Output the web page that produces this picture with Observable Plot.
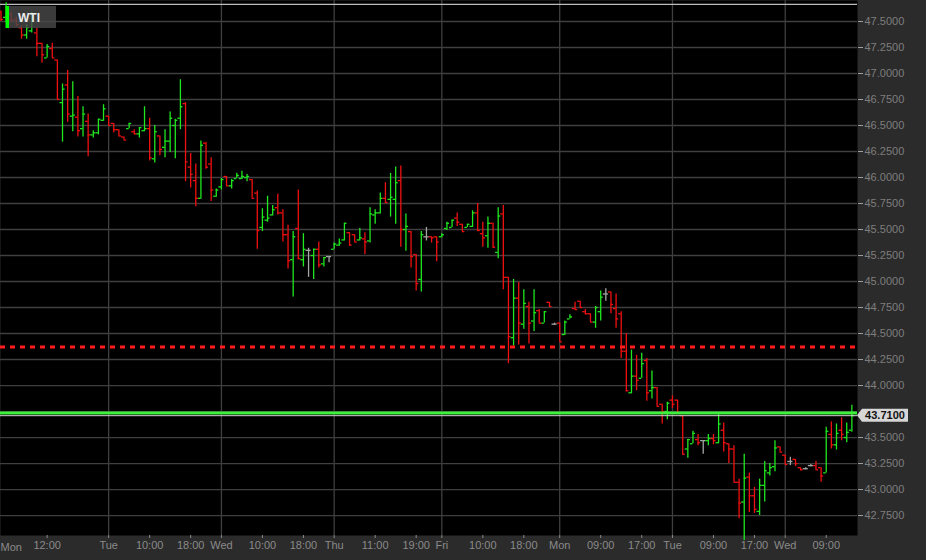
<!DOCTYPE html>
<html>
<head>
<meta charset="utf-8">
<script src="https://cdn.jsdelivr.net/npm/d3@7"></script>
<script src="https://cdn.jsdelivr.net/npm/@observablehq/plot@0.6"></script>
<style>
  html, body { margin: 0; padding: 0; background: #2b2b2b; }
  #chart { width: 926px; height: 560px; overflow: hidden; }
</style>
</head>
<body>
<div id="chart"></div>
<script>
// Hourly WTI bars, oldest first
const opens = [
  47.59, 47.54, 47.57, 47.52, 47.44, 47.37, 47.41, 47.39, 47.29, 47.15,
  47.24, 47.13, 46.72, 46.89, 46.59, 46.58, 46.47, 46.54, 46.41, 46.43,
  46.55, 46.59, 46.52, 46.46, 46.39, 46.47, 46.44, 46.42, 46.45, 46.47,
  46.18, 46.40, 46.29, 46.35, 46.50, 46.57, 46.71, 46.10, 45.97, 45.80,
  46.33, 46.13, 45.82, 45.91, 46.01, 45.92, 45.99, 45.99, 46.00, 45.98,
  45.85, 45.52, 45.59, 45.64, 45.71, 45.66, 45.45, 45.21, 45.51, 45.21,
  45.30, 45.25, 45.31, 45.17, 45.24, 45.31, 45.35, 45.40, 45.47, 45.45,
  45.40, 45.41, 45.39, 45.64, 45.66, 45.80, 45.79, 45.79, 45.97, 45.50,
  45.48, 45.26, 45.02, 45.43, 45.43, 45.43, 45.43, 45.51, 45.52, 45.61,
  45.55, 45.52, 45.53, 45.66, 45.46, 45.44, 45.56, 45.28, 45.65, 45.04,
  44.46, 44.84, 44.59, 44.76, 44.62, 44.72, 44.60, 44.80, 44.59, 44.60,
  44.49, 44.64, 44.74, 44.81, 44.71, 44.69, 44.61, 44.71, 44.88, 44.90,
  44.74, 44.69, 44.33, 43.93, 44.09, 44.07, 44.24, 43.95, 43.98, 43.82,
  43.75, 43.86, 43.86, 43.71, 43.39, 43.44, 43.48, 43.47, 43.47, 43.49,
  43.45, 43.57, 43.44, 43.39, 43.07, 42.88, 43.12, 42.94, 42.79, 43.04,
  43.16, 43.22, 43.41, 43.33, 43.27, 43.29, 43.21, 43.20, 43.23, 43.23,
  43.21, 43.16, 43.53, 43.43, 43.57, 43.50, 43.57
];
const highs = [
  47.60, 47.68, 47.59, 47.54, 47.46, 47.47, 47.59, 47.44, 47.29, 47.28,
  47.29, 47.13, 46.90, 47.03, 46.92, 46.78, 46.68, 46.61, 46.45, 46.56,
  46.70, 46.59, 46.52, 46.46, 46.39, 46.52, 46.46, 46.48, 46.68, 46.57,
  46.50, 46.40, 46.46, 46.63, 46.56, 46.94, 46.72, 46.23, 46.13, 46.35,
  46.34, 46.19, 45.89, 45.99, 46.01, 45.98, 46.04, 46.06, 46.03, 45.98,
  45.87, 45.70, 45.82, 45.73, 45.84, 45.69, 45.54, 45.48, 45.88, 45.46,
  45.32, 45.31, 45.38, 45.23, 45.24, 45.37, 45.41, 45.56, 45.47, 45.45,
  45.51, 45.47, 45.71, 45.69, 45.85, 45.95, 46.04, 46.10, 46.11, 45.65,
  45.48, 45.26, 45.48, 45.52, 45.43, 45.43, 45.46, 45.57, 45.59, 45.66,
  45.55, 45.55, 45.68, 45.75, 45.57, 45.62, 45.56, 45.71, 45.73, 45.04,
  45.02, 44.99, 44.92, 44.80, 44.92, 44.73, 44.71, 44.80, 44.60, 44.60,
  44.62, 44.68, 44.80, 44.81, 44.73, 44.69, 44.76, 44.91, 44.93, 44.90,
  44.88, 44.71, 44.50, 44.34, 44.29, 44.31, 44.26, 44.14, 43.98, 43.82,
  43.84, 43.90, 43.86, 43.71, 43.48, 43.56, 43.53, 43.47, 43.53, 43.53,
  43.73, 43.64, 43.44, 43.42, 43.10, 43.34, 43.16, 43.02, 43.10, 43.27,
  43.25, 43.47, 43.41, 43.33, 43.31, 43.29, 43.21, 43.21, 43.24, 43.27,
  43.21, 43.60, 43.65, 43.63, 43.69, 43.64, 43.81
];
const lows = [
  47.50, 47.49, 47.49, 47.45, 47.33, 47.33, 47.39, 47.16, 47.10, 47.15,
  47.15, 46.75, 46.34, 46.53, 46.44, 46.39, 46.39, 46.20, 46.38, 46.41,
  46.54, 46.50, 46.43, 46.40, 46.36, 46.47, 46.41, 46.38, 46.44, 46.16,
  46.14, 46.21, 46.19, 46.24, 46.18, 46.46, 45.96, 45.90, 45.72, 45.79,
  46.08, 45.77, 45.81, 45.88, 45.92, 45.89, 45.99, 45.98, 45.96, 45.80,
  45.31, 45.48, 45.57, 45.63, 45.64, 45.38, 45.12, 44.85, 45.21, 45.14,
  45.04, 45.02, 45.13, 45.14, 45.18, 45.31, 45.34, 45.39, 45.34, 45.38,
  45.39, 45.26, 45.37, 45.55, 45.65, 45.75, 45.62, 45.55, 45.33, 45.29,
  45.13, 44.91, 44.90, 45.39, 45.37, 45.19, 45.42, 45.49, 45.52, 45.53,
  45.48, 45.52, 45.52, 45.48, 45.33, 45.32, 45.32, 45.22, 44.92, 44.21,
  44.38, 44.39, 44.54, 44.40, 44.52, 44.60, 44.60, 44.76, 44.58, 44.42,
  44.48, 44.64, 44.73, 44.75, 44.68, 44.61, 44.55, 44.62, 44.81, 44.69,
  44.55, 44.26, 43.94, 43.92, 43.95, 44.07, 43.85, 43.87, 43.80, 43.63,
  43.67, 43.78, 43.74, 43.33, 43.30, 43.44, 43.42, 43.34, 43.42, 43.43,
  43.44, 43.36, 43.25, 43.07, 42.72, 42.51, 42.78, 42.77, 42.75, 42.88,
  43.13, 43.17, 43.36, 43.24, 43.23, 43.22, 43.18, 43.19, 43.22, 43.19,
  43.07, 43.16, 43.39, 43.38, 43.47, 43.45, 43.55
];
const closes = [
  47.52, 47.63, 47.51, 47.47, 47.37, 47.44, 47.50, 47.29, 47.18, 47.26,
  47.15, 46.75, 46.85, 46.61, 46.60, 46.45, 46.61, 46.41, 46.43, 46.56,
  46.66, 46.50, 46.46, 46.40, 46.36, 46.52, 46.42, 46.48, 46.47, 46.19,
  46.44, 46.27, 46.35, 46.57, 46.55, 46.68, 46.15, 46.03, 45.80, 46.31,
  46.10, 45.88, 45.88, 45.98, 45.92, 45.97, 46.02, 46.01, 46.01, 45.80,
  45.49, 45.62, 45.61, 45.69, 45.66, 45.45, 45.20, 45.43, 45.22, 45.31,
  45.30, 45.31, 45.16, 45.23, 45.24, 45.36, 45.37, 45.56, 45.35, 45.38,
  45.42, 45.38, 45.65, 45.66, 45.80, 45.76, 45.81, 45.95, 45.50, 45.53,
  45.24, 44.98, 45.45, 45.43, 45.42, 45.38, 45.45, 45.56, 45.59, 45.57,
  45.48, 45.55, 45.66, 45.49, 45.42, 45.56, 45.33, 45.63, 45.04, 44.47,
  44.84, 44.60, 44.79, 44.60, 44.70, 44.60, 44.71, 44.76, 44.59, 44.42,
  44.61, 44.66, 44.73, 44.75, 44.69, 44.61, 44.75, 44.85, 44.88, 44.78,
  44.64, 44.33, 43.95, 44.09, 44.05, 44.21, 43.93, 43.98, 43.80, 43.75,
  43.83, 43.82, 43.74, 43.34, 43.48, 43.54, 43.45, 43.47, 43.49, 43.47,
  43.63, 43.45, 43.39, 43.07, 42.87, 43.11, 42.94, 42.81, 43.04, 43.18,
  43.21, 43.40, 43.36, 43.24, 43.27, 43.25, 43.19, 43.20, 43.23, 43.19,
  43.13, 43.56, 43.43, 43.54, 43.53, 43.55, 43.71
];

// Time axis: bar index of each labelled tick and its text
const tickBars = [9, 21, 29, 37, 43, 51, 59, 65, 73, 81, 86, 94, 102, 109, 117, 125, 131, 139, 147, 153, 161];
const tickLabels = ["12:00", "Tue", "10:00", "18:00", "Wed", "10:00", "18:00", "Thu", "11:00", "19:00", "Fri",
                    "10:00", "18:00", "Mon", "09:00", "17:00", "Tue", "09:00", "17:00", "Wed", "09:00"];
const firstDayLabel = "Mon";
// First bar of each new session (vertical separators)
const dayStarts = [21, 43, 65, 86, 109, 131, 153];

// Price axis
const priceTicks = [42.75, 43.00, 43.25, 43.50, 43.75, 44.00, 44.25, 44.50, 44.75, 45.00,
                    45.25, 45.50, 45.75, 46.00, 46.25, 46.50, 46.75, 47.00, 47.25, 47.50];
const priceDomain = [42.558, 47.702];

// Reference levels
const topLevel = 47.665;
const alertLevel = 44.37;
const refLevel = 43.735;
const lastPrice = 43.71;
const symbol = "WTI";

const bars = opens.map((o, i) => ({i, open: o, high: highs[i], low: lows[i], close: closes[i]}));
const dir = d => d.close > d.open ? "up" : d.close < d.open ? "down" : "flat";
const barColor = {domain: ["up", "down", "flat"], range: ["#1fe81f", "#f01010", "#a6a6a6"]};

// The last-price tag sits on top of any price label it would cover
const axisTicks = priceTicks.filter(v => Math.abs(v - lastPrice) > 0.07);

const W = 926, H = 560, mR = 69, mB = 25;

const plot = Plot.plot({
  width: W,
  height: H,
  marginLeft: 0,
  marginRight: mR,
  marginTop: 0,
  marginBottom: mB,
  style: {background: "#2b2b2b", fontFamily: "'Liberation Sans', Arial, sans-serif", fontSize: "11px", color: "#8a8a8a"},
  x: {type: "linear", domain: [-0.1, 167.1], axis: null},
  y: {domain: priceDomain, axis: null},
  color: barColor,
  marks: [
    Plot.frame({fill: "#000", stroke: null}),
    Plot.ruleY(priceTicks, {stroke: "#3f3f3f", strokeWidth: 1.3}),
    Plot.ruleX(dayStarts, {stroke: "#3f3f3f", strokeWidth: 1.3}),
    Plot.ruleY([topLevel], {stroke: "#bdbdbd", strokeWidth: 1.3}),
    // OHLC bars: high-low stem, open tick left, close tick right
    Plot.ruleX(bars, {x: "i", y1: "low", y2: "high", stroke: dir, strokeWidth: 1.3}),
    Plot.ruleY(bars, {y: "open", x1: d => d.i - 0.5, x2: "i", stroke: dir, strokeWidth: 1.3}),
    Plot.ruleY(bars, {y: "close", x1: "i", x2: d => d.i + 0.5, stroke: dir, strokeWidth: 1.3}),
    // Levels
    Plot.ruleY([alertLevel], {stroke: "#ff1c1c", strokeWidth: 3, strokeDasharray: "5,5"}),
    Plot.ruleY([refLevel], {stroke: "#3cf03c", strokeWidth: 3}),
    Plot.ruleY([lastPrice], {stroke: "#d2d2d2", strokeWidth: 1}),
    // Axes
    Plot.axisY(axisTicks, {anchor: "right", tickSize: 5, tickPadding: 2, tickFormat: d => d.toFixed(4),
      stroke: "#a0a0a0", fill: "#7e7e7e", fontSize: 11, label: null}),
    Plot.axisX(tickBars, {anchor: "bottom", tickSize: 3, tickPadding: 3,
      tickFormat: d => tickLabels[tickBars.indexOf(d)], stroke: "#8a8a8a", fill: "#8a8a8a", fontSize: 11, label: null}),
    Plot.text([firstDayLabel], {frameAnchor: "bottom-left", dy: 12, textAnchor: "start", lineAnchor: "middle",
      fill: "#8a8a8a", fontSize: 11})
  ]
});

const svg = d3.select(plot);
const yScale = plot.scale("y");

// Last price tag on the price axis
const ly = yScale.apply(lastPrice);
const px = W - mR;
const tag = svg.append("g");
tag.append("path")
  .attr("d", `M${px},${ly} L${px + 5},${ly - 6.5} L${px + 51},${ly - 6.5} L${px + 51},${ly + 6.5} L${px + 5},${ly + 6.5} Z`)
  .attr("fill", "#d6d6d6");
tag.append("text")
  .attr("x", px + 28).attr("y", ly + 4)
  .attr("text-anchor", "middle")
  .attr("font-size", 11).attr("font-weight", "bold")
  .attr("fill", "#111")
  .text(lastPrice.toFixed(4));

// Series legend
const leg = svg.append("g");
leg.append("rect").attr("x", 8).attr("y", 6).attr("width", 48).attr("height", 22)
  .attr("fill", "#4a4a4a").attr("fill-opacity", 0.8);
leg.append("rect").attr("x", 5.5).attr("y", 6).attr("width", 3.5).attr("height", 22).attr("fill", "#00ff00");
leg.append("text").attr("x", 18).attr("y", 21.5)
  .attr("text-anchor", "start")
  .attr("font-size", 12).attr("font-weight", "bold").attr("fill", "#ececec")
  .text(symbol);

document.getElementById("chart").appendChild(plot);
</script>
</body>
</html>
